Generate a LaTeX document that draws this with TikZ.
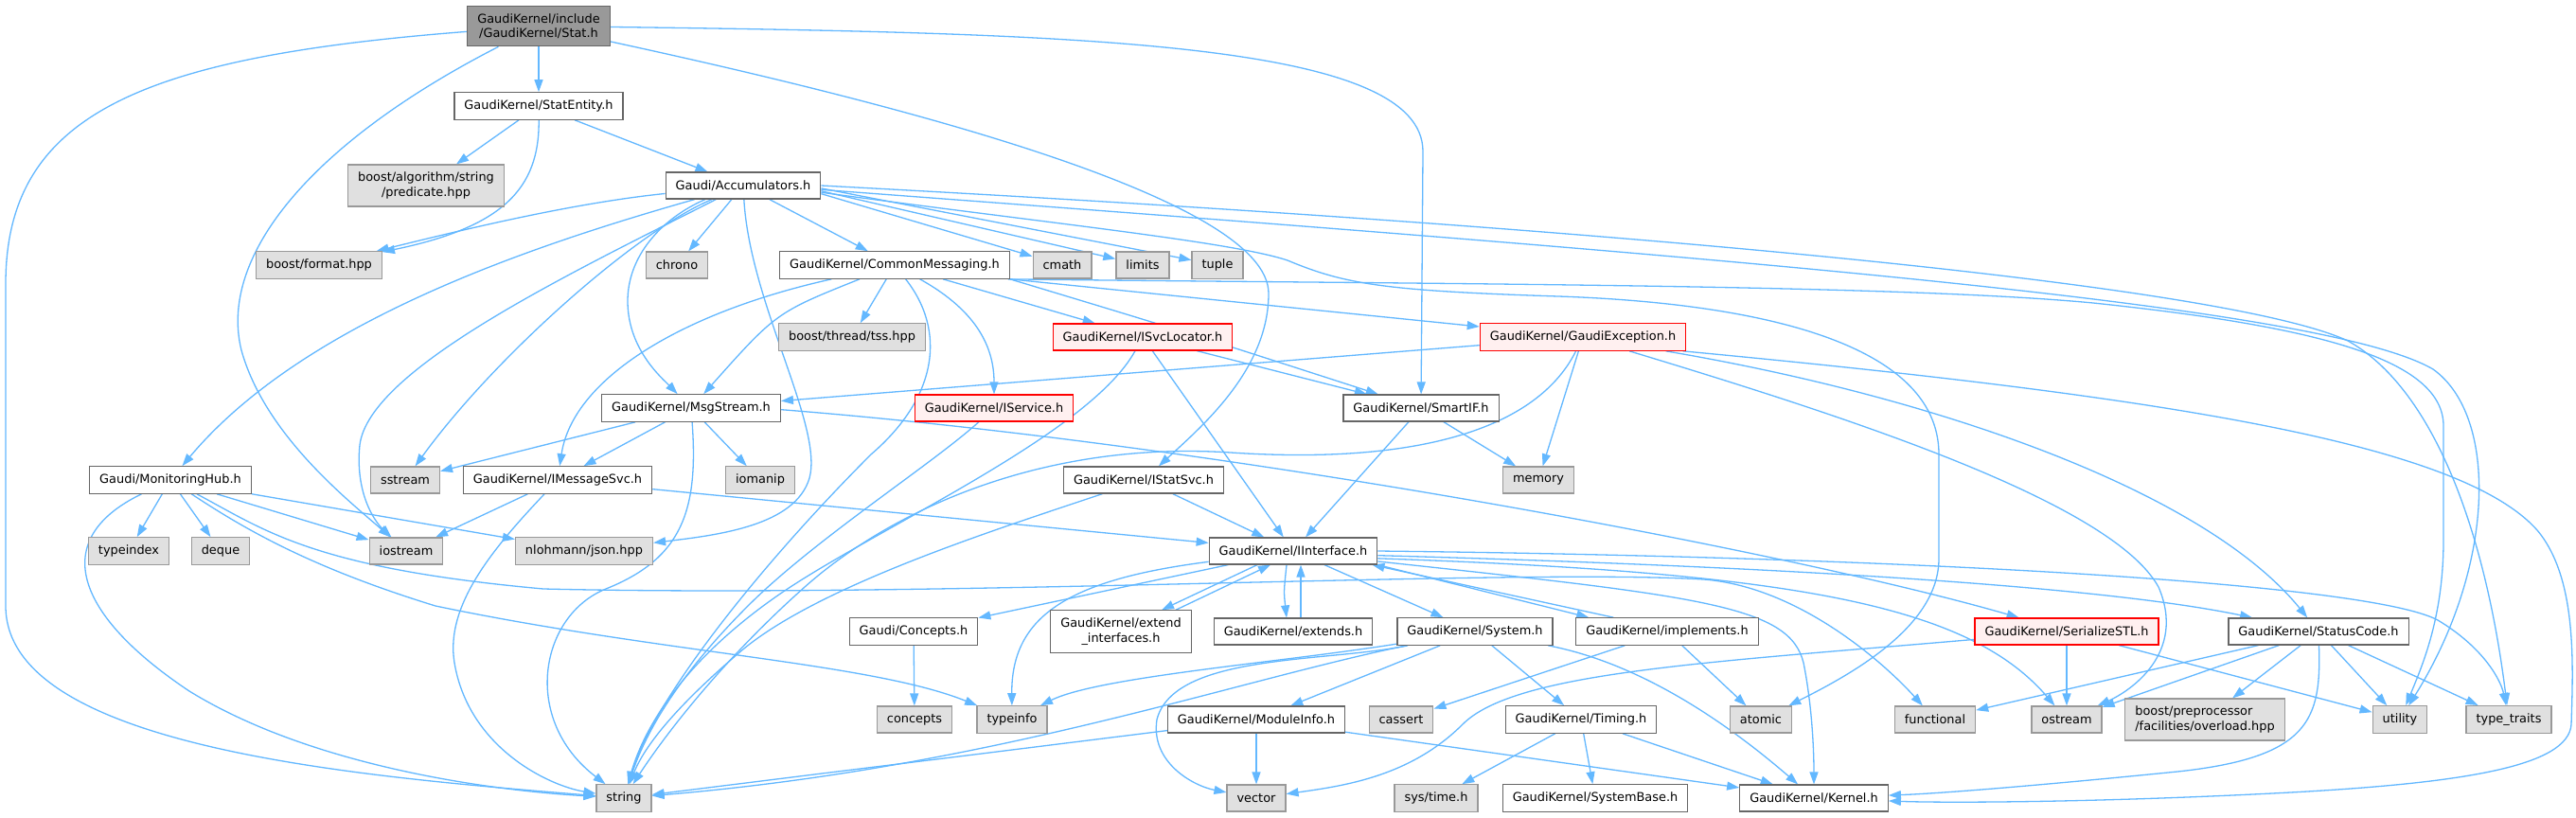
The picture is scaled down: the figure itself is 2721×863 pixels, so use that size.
\documentclass[tikz,border=0pt]{standalone}
\usepackage{fontspec}
\setmainfont{DejaVu Sans}
\usetikzlibrary{arrows.meta}
\pgfdeclarelayer{bg}
\pgfsetlayers{bg,main}
\definecolor{edgeblue}{HTML}{63B8FF}
\definecolor{sysfill}{HTML}{E0E0E0}
\definecolor{sysdraw}{HTML}{999999}
\definecolor{nddraw}{HTML}{666666}
\definecolor{rootfill}{HTML}{999999}
\definecolor{trfill}{HTML}{FFF0F0}
\tikzset{
  nd/.style={draw=nddraw, fill=white, line width=1.2pt, inner xsep=10.5pt, inner ysep=8pt,
    minimum height=28pt, font=\fontsize{12.9}{15.5}\selectfont, align=center},
  sysnd/.style={nd, draw=sysdraw, fill=sysfill},
  rootnd/.style={nd, draw=nddraw, fill=rootfill},
  trnd/.style={nd, draw=red, fill=trfill},
  lnk/.style={draw=edgeblue, line width=1.3pt, -{Triangle[length=13pt,width=9pt]}},
}
\begin{document}
\begin{tikzpicture}[x=1pt,y=-1pt]
\useasboundingbox (0,0) rectangle (2721,863);
% nodes
\node[rootnd] (statH) at (569,27.5) {GaudiKernel/include\\/GaudiKernel/Stat.h};
\node[nd] (statEntity) at (569,112) {GaudiKernel/StatEntity.h};
\node[sysnd] (predicate) at (450,196) {boost/algorithm/string\\/predicate.hpp};
\node[nd] (acc) at (785,196) {Gaudi/Accumulators.h};
\node[sysnd] (format) at (337,280) {boost/format.hpp};
\node[sysnd] (chrono) at (715,280) {chrono};
\node[nd] (cmsg) at (945,280) {GaudiKernel/CommonMessaging.h};
\node[sysnd] (cmath) at (1122,280) {cmath};
\node[sysnd] (limits) at (1207,280) {limits};
\node[sysnd] (tuple) at (1286,280) {tuple};
\node[sysnd] (tss) at (900,356) {boost/thread/tss.hpp};
\node[trnd] (isvcloc) at (1207,356) {GaudiKernel/ISvcLocator.h};
\node[trnd] (gexc) at (1672,356) {GaudiKernel/GaudiException.h};
\node[nd] (msgs) at (730,431) {GaudiKernel/MsgStream.h};
\node[trnd] (isvc) at (1050,431) {GaudiKernel/IService.h};
\node[nd] (smartif) at (1501,431) {GaudiKernel/SmartIF.h};
\node[nd] (monhub) at (180,507) {Gaudi/MonitoringHub.h};
\node[sysnd] (sstream) at (428,507) {sstream};
\node[nd] (imsg) at (589,507) {GaudiKernel/IMessageSvc.h};
\node[sysnd] (iomanip) at (803,507) {iomanip};
\node[nd] (istat) at (1208,507) {GaudiKernel/IStatSvc.h};
\node[sysnd] (memory) at (1625,507) {memory};
\node[sysnd] (typeindex) at (136,582) {typeindex};
\node[sysnd] (deque) at (233,582) {deque};
\node[sysnd] (iostream) at (429,582) {iostream};
\node[sysnd] (json) at (617,582) {nlohmann/json.hpp};
\node[nd] (iif) at (1366,582) {GaudiKernel/IInterface.h};
\node[nd] (conceptsh) at (965,667) {Gaudi/Concepts.h};
\node[nd] (extif) at (1184,667) {GaudiKernel/extend\\\_interfaces.h};
\node[nd] (extends) at (1366,667) {GaudiKernel/extends.h};
\node[nd] (system) at (1558,667) {GaudiKernel/System.h};
\node[nd] (impl) at (1761,667) {GaudiKernel/implements.h};
\node[trnd] (sstl) at (2183,667) {GaudiKernel/SerializeSTL.h};
\node[nd] (scode) at (2449,667) {GaudiKernel/StatusCode.h};
\node[sysnd] (concepts) at (966,760) {concepts};
\node[sysnd] (typeinfo) at (1069,760) {typeinfo};
\node[nd] (modinfo) at (1327,760) {GaudiKernel/ModuleInfo.h};
\node[sysnd] (cassert) at (1480,760) {cassert};
\node[nd] (timing) at (1670,760) {GaudiKernel/Timing.h};
\node[sysnd] (atomic) at (1860,760) {atomic};
\node[sysnd] (functional) at (2044,760) {functional};
\node[sysnd] (ostream) at (2183,760) {ostream};
\node[sysnd, align=left] (overload) at (2329,760) {boost/preprocessor\\/facilities/overload.hpp};
\node[sysnd] (utility) at (2535,760) {utility};
\node[sysnd] (typetraits) at (2650,760) {type\_traits};
\node[sysnd] (string) at (659,843) {string};
\node[sysnd] (vector) at (1327,843) {vector};
\node[sysnd] (systime) at (1517,843) {sys/time.h};
\node[nd] (sysbase) at (1685,843) {GaudiKernel/SystemBase.h};
\node[nd] (kernel) at (1916,843) {GaudiKernel/Kernel.h};
\begin{pgfonlayer}{bg}
\fill[white] (0,0) rectangle (2721,863);
% Stat.h
\draw[lnk] (statH) .. controls (150,60) and (6,120) .. (6,300) -- (6,640) .. controls (6,790) and (380,820) .. (string);
\draw[lnk] (statH) .. controls (330,150) and (230,270) .. (255,370) .. controls (280,460) and (370,530) .. (iostream);
\draw[lnk] (statH) -- (statEntity);
\draw[lnk] (statH) .. controls (1150,35) and (1503,45) .. (1503,160) -- (smartif);
\draw[lnk] (statH) .. controls (950,110) and (1340,210) .. (1340,310) .. controls (1340,390) and (1270,450) .. (istat);
% StatEntity
\draw[lnk] (statEntity) -- (predicate);
\draw[lnk] (statEntity) .. controls (570,200) and (530,240) .. (format);
\draw[lnk] (statEntity) -- (acc);
% Accumulators
\draw[lnk] (acc) .. controls (600,215) and (480,245) .. (format);
\draw[lnk] (acc) .. controls (560,260) and (320,340) .. (monhub);
\draw[lnk] (acc) .. controls (600,290) and (390,390) .. (380,470) .. controls (375,520) and (395,550) .. (iostream);
\draw[lnk] ([xshift=-33pt]acc.south) .. controls (670,245) and (520,380) .. (sstream);
\draw[lnk] ([xshift=-40pt]acc.south) .. controls (700,230) and (662,270) .. (663,320) .. controls (664,370) and (700,400) .. (msgs);
\draw[lnk] (acc) -- (chrono);
\draw[lnk] (acc) .. controls (792,320) and (870,450) .. (855,505) .. controls (840,555) and (760,565) .. (json);
\draw[lnk] (acc) -- (cmsg);
\draw[lnk] (acc.-6) -- (cmath);
\draw[lnk] (acc.-4) -- (limits);
\draw[lnk] (acc.-2) -- (tuple);
\draw[lnk] (acc.-5) .. controls (1100,235) and (1300,255) .. (1360,275) .. controls (1420,300) and (1460,307) .. (1646,313) .. controls (1850,320) and (2048,360) .. (2048,480) -- (2048,590) .. controls (2048,660) and (1960,710) .. (atomic);
\draw[lnk] (acc.east) .. controls (1700,240) and (2350,300) .. (2480,360) .. controls (2570,410) and (2625,560) .. (typetraits);
\draw[lnk] (acc.-3) .. controls (1800,270) and (2450,320) .. (2570,390) .. controls (2640,440) and (2635,600) .. (utility);
% MonitoringHub
\draw[lnk] (monhub) .. controls (50,570) and (80,650) .. (200,730) .. controls (330,810) and (520,835) .. (string);
\draw[lnk] (monhub) -- (typeindex);
\draw[lnk] (monhub) -- (deque);
\draw[lnk] (monhub) .. controls (260,560) and (330,600) .. (460,640) .. controls (700,690) and (920,700) .. (typeinfo);
\draw[lnk] (monhub) .. controls (280,560) and (330,600) .. (574,622) .. controls (1000,632) and (1600,600) .. (1800,612) .. controls (1900,620) and (1990,700) .. (functional);
\draw[lnk] (monhub) -- (iostream);
\draw[lnk] (monhub) -- (json);
% MsgStream
\draw[lnk] (msgs) -- (sstream);
\draw[lnk] (msgs) -- (imsg);
\draw[lnk] (msgs) .. controls (738,540) and (720,590) .. (640,622) .. controls (570,650) and (550,760) .. (string);
\draw[lnk] (msgs) -- (iomanip);
\draw[lnk] (msgs.-1) .. controls (1300,470) and (1900,585) .. (sstl);
% IMessageSvc
\draw[lnk] (imsg) -- (iostream);
\draw[lnk] (imsg) .. controls (520,580) and (470,640) .. (480,700) .. controls (495,790) and (580,830) .. (string);
\draw[lnk] (imsg) -- (iif);
% CommonMessaging
\draw[lnk] (cmsg) -- (tss);
\draw[lnk] (cmsg) .. controls (1000,350) and (990,420) .. (920,480) .. controls (800,600) and (690,740) .. (string);
\draw[lnk] (cmsg) .. controls (1035,330) and (1050,370) .. (isvc);
\draw[lnk] (cmsg) -- (isvcloc);
\draw[lnk] (cmsg.south east) .. controls (1250,350) .. (smartif);
\draw[lnk] (cmsg.south east) -- (gexc);
\draw[lnk] ([xshift=-2pt]cmsg.south east) .. controls (1500,300) and (2000,300) .. (2211,320) .. controls (2450,345) and (2581,380) .. (2581,450) -- (2581,570) .. controls (2581,650) and (2560,700) .. (utility);
\draw[lnk] (cmsg) .. controls (720,330) and (605,400) .. (imsg);
\draw[lnk] (cmsg) .. controls (820,330) .. (msgs);
% ISvcLocator
\draw[lnk] (isvcloc) .. controls (1150,460) and (920,560) .. (820,630) .. controls (720,700) and (680,770) .. (string);
\draw[lnk] (isvcloc) -- (iif);
\draw[lnk] (isvcloc) -- (smartif);
% GaudiException
\draw[lnk] (gexc) -- (msgs);
\draw[lnk] (gexc) .. controls (1620,460) and (1480,490) .. (1300,478) .. controls (1100,465) and (940,540) .. (850,620) .. controls (760,700) and (700,780) .. (string);
\draw[lnk] (gexc) -- (memory);
\draw[lnk] (gexc) .. controls (2050,420) and (2330,520) .. (scode);
\draw[lnk] (gexc) .. controls (1950,440) and (2230,530) .. (2280,620) .. controls (2310,690) and (2250,730) .. (ostream);
\draw[lnk] (gexc.-8) .. controls (2300,420) and (2600,470) .. (2680,560) .. controls (2722,610) and (2718,700) .. (2716,765) .. controls (2713,810) and (2600,828) .. (2400,838) .. controls (2200,848) and (2050,848) .. (kernel);
% StatusCode
\draw[lnk] (scode) -- (functional);
\draw[lnk] (scode) -- (ostream);
\draw[lnk] (scode) -- (overload);
\draw[lnk] (scode) .. controls (2452,760) and (2440,800) .. (2300,815) .. controls (2150,830) and (2050,838) .. (kernel);
\draw[lnk] (scode) -- (utility);
\draw[lnk] (scode) -- (typetraits);
% SerializeSTL
\draw[lnk] (sstl) .. controls (1800,700) and (1600,710) .. (1545,765) .. controls (1490,820) and (1420,830) .. (vector);
\draw[lnk] (sstl) -- (ostream);
\draw[lnk] (sstl) -- (utility);
% IInterface
\draw[lnk] (iif) .. controls (1130,612) and (1068,650) .. (typeinfo);
\draw[lnk] (iif) -- (conceptsh);
\draw[lnk] ([xshift=-38pt]iif.south) -- ([xshift=43pt]extif.north);
\draw[lnk] ([xshift=58pt]extif.north) -- ([xshift=-24pt]iif.south);
\draw[lnk] ([xshift=-7pt]iif.south) .. controls (1356,625) .. ([xshift=-7pt]extends.north);
\draw[lnk] ([xshift=8pt]extends.north) -- ([xshift=8pt]iif.south);
\draw[lnk] (iif) -- (system);
\draw[lnk] (iif.south east) -- ([xshift=14pt]impl.north west);
\draw[lnk] ([xshift=40pt]impl.north west) -- ([xshift=-6pt]iif.south east);
\draw[lnk] (iif.east) .. controls (2000,588) and (2500,615) .. (2575,655) .. controls (2625,685) and (2642,720) .. (typetraits);
\draw[lnk] (iif.-3) .. controls (1800,596) and (2200,615) .. (scode);
\draw[lnk] (iif.-5) .. controls (1900,605) and (2080,640) .. (ostream);
\draw[lnk] (iif.-7) .. controls (1800,630) and (1890,640) .. (1905,700) .. controls (1915,750) and (1916,800) .. (kernel);
% System
\draw[lnk] (system) .. controls (1400,700) and (1240,690) .. (1222,760) .. controls (1215,805) and (1260,830) .. (vector);
\draw[lnk] (system) .. controls (1350,700) and (1160,715) .. (typeinfo);
\draw[lnk] (system) .. controls (1300,720) and (1050,810) .. (string);
\draw[lnk] (system) -- (modinfo);
\draw[lnk] (system) -- (timing);
\draw[lnk] (system) .. controls (1730,700) and (1820,760) .. (kernel);
% ModuleInfo
\draw[lnk] (modinfo) -- (string);
\draw[lnk] (modinfo) -- (vector);
\draw[lnk] (modinfo) -- (kernel);
% Timing
\draw[lnk] (timing) -- (systime);
\draw[lnk] (timing) -- (sysbase);
\draw[lnk] (timing) -- (kernel);
% implements
\draw[lnk] (impl) -- (cassert);
\draw[lnk] (impl) -- (atomic);
% IService
\draw[lnk] (isvc) .. controls (985,490) and (860,570) .. (790,640) .. controls (710,720) and (680,780) .. (string);
% IStatSvc
\draw[lnk] (istat) -- (iif);
\draw[lnk] (istat) .. controls (1050,560) and (860,620) .. (780,690) .. controls (710,750) and (680,790) .. (string);
% SmartIF
\draw[lnk] (smartif) -- (iif);
\draw[lnk] (smartif) -- (memory);
% Concepts
\draw[lnk] (conceptsh) -- (concepts);
\end{pgfonlayer}
\end{tikzpicture}
\end{document}
